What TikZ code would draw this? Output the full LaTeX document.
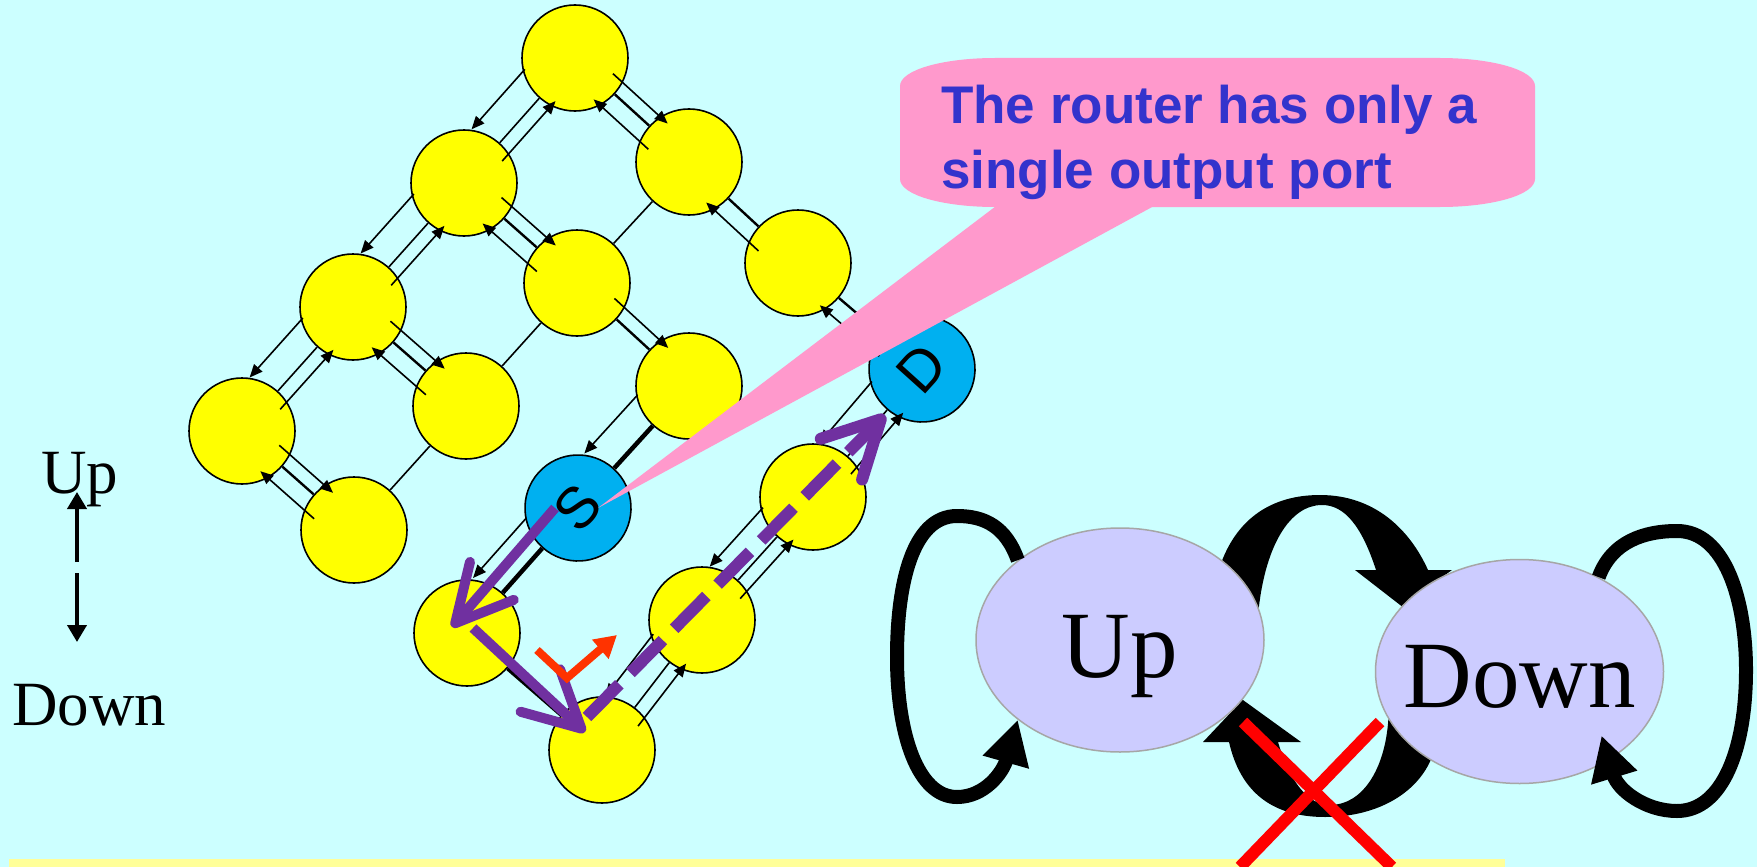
\documentclass[tikz,border=0pt]{standalone}
\usepackage{fontspec}
\setmainfont{Liberation Serif}
\newfontfamily\notefont{Liberation Sans}
\usetikzlibrary{arrows.meta, calc, shapes.geometric}
\pgfdeclarelayer{behind}
\pgfsetlayers{behind,main}

\definecolor{bgcyan}{RGB}{204,255,255}
\definecolor{routeryellow}{RGB}{255,255,0}
\definecolor{hubblue}{RGB}{0,176,240}
\definecolor{calloutpink}{RGB}{255,153,204}
\definecolor{noteblue}{RGB}{51,51,204}
\definecolor{routepurple}{RGB}{112,48,160}
\definecolor{turnred}{RGB}{255,51,0}
\definecolor{statefill}{RGB}{204,204,255}
\definecolor{stateedge}{RGB}{166,166,166}
\definecolor{stripyellow}{RGB}{255,255,153}

\begin{document}
\begin{tikzpicture}[x=1pt, y=-1pt]
  \tikzset{
    router/.style={
      circle,
      draw,
      line width=1.6pt,
      fill=routeryellow,
      minimum size=106pt,
      inner sep=0pt
    },
    hub/.style={
      router,
      fill=hubblue,
      font=\notefont\fontsize{58}{58}\selectfont,
      rotate=48
    },
    wire/.style={line width=1.6pt},
    trunk/.style={line width=2.4pt},
    spine/.style={line width=4.5pt},
    chan/.style={line width=1.6pt, -{Triangle[length=13pt, width=11pt]}},
    callout/.style={fill=calloutpink},
    notetext/.style={
      font=\notefont\bfseries\fontsize{53}{65}\selectfont,
      text=noteblue,
      inner sep=0pt,
      anchor=base west
    },
    route/.style={line width=10pt, draw=routepurple, -{Straight Barb[length=56pt, width=58pt, round]}},
    turn/.style={line width=8pt, draw=turnred, -{Triangle[length=22pt, width=24pt]}},
    dirlabel/.style={font=\fontsize{63}{63}\selectfont, inner sep=0pt, anchor=base west},
    dirarrow/.style={line width=4pt, -{Triangle[length=17pt, width=19pt]}},
    state/.style={
      ellipse,
      draw=stateedge,
      line width=1.5pt,
      fill=statefill,
      minimum width=288pt,
      minimum height=224pt,
      inner sep=0pt
    },
    statelabel/.style={font=\fontsize{95}{95}\selectfont, inner sep=0pt, anchor=base},
    selfloop/.style={line width=14pt, -{Triangle[length=44pt, width=45pt]}},
    band/.style={fill=black},
    cross/.style={line width=12pt, draw=red}
  }

  \useasboundingbox (0,0) rectangle (1757,867);
  \begin{pgfonlayer}{behind}
    \fill[bgcyan] (0,0) rectangle (1757,867);
  \end{pgfonlayer}

  % Draw the routers
  \node[router] (r1) at (575,58) {};
  \node[router] (r2) at (464,183) {};
  \node[router] (r3) at (689,162) {};
  \node[router] (r4) at (353,307) {};
  \node[router] (r5) at (577,283) {};
  \node[router] (r6) at (798,263) {};
  \node[router] (r7) at (242,431) {};
  \node[router] (r8) at (466,406) {};
  \node[router] (r9) at (689,386) {};
  \node[hub] (dst) at (922,369) {D};
  \node[router] (r10) at (354,530) {};
  \node[hub] (src) at (578,508) {S};
  \node[router] (r11) at (813,497) {};
  \node[router] (r12) at (467,633) {};
  \node[router] (r13) at (702,620) {};
  \node[router] (r14) at (602,750) {};

  % Links between neighbours
  \foreach \a/\b in {r1/r2, r2/r4, r4/r7, r3/r5, r5/r8, r8/r10, dst/r11, r11/r13, r13/r14}
    \draw[wire] (\a) -- (\b);
  \foreach \a/\b in {r1/r3, r3/r6, r6/dst, r2/r5, r5/r9, r4/r8, r7/r10}
    \draw[trunk] (\a) -- (\b);
  \foreach \a/\b in {r9/src, src/r12, r12/r14}
    \draw[spine] (\a) -- (\b);

  % Channels along the rows (kept left of their direction)
  \foreach \a/\b/\off in {r1/r3/14pt, r2/r5/14pt, r4/r8/14pt, r7/r10/14pt, r5/r9/14pt,
                          r3/r1/18pt, r5/r2/18pt, r8/r4/18pt, r10/r7/18pt, r6/r3/18pt, dst/r6/18pt}
    \draw[chan] ($(\a)!0.25!(\b)!\off!90:(\b)$) -- ($(\a)!0.73!(\b)!\off!90:(\b)$);
  % Channels along the columns (kept right of their direction)
  \foreach \a/\b/\off in {r1/r2/30pt, r2/r4/30pt, r4/r7/30pt, dst/r11/30pt, r11/r13/30pt,
                          r13/r14/30pt, r9/src/32pt, src/r12/32pt,
                          r2/r1/14pt, r4/r2/14pt, r7/r4/14pt, r11/dst/14pt, r13/r11/14pt, r14/r13/14pt}
    \draw[chan] ($(\a)!0.25!(\b)!\off!270:(\b)$) -- ($(\a)!0.73!(\b)!\off!270:(\b)$);

  % Speech bubble
  \fill[callout] (900,86) .. controls (900,70) and (943,58) .. (995,58) -- (1440,58)
    .. controls (1492,58) and (1535,70) .. (1535,86) -- (1535,179)
    .. controls (1535,195) and (1492,207) .. (1440,207) -- (995,207)
    .. controls (943,207) and (900,195) .. (900,179) -- cycle;
  \fill[callout] (1004,200) -- ($(src)+(20,0)$) -- (1165,200) -- cycle;
  \node[notetext] (note1) at (941,123) {The router has only a};
  \node[notetext] (note2) at (941,188) {single output port};

  % Route taken by the packet
  \coordinate (hop0) at ($(src)+(-23,0)$);
  \coordinate (hop1) at ($(r12)+(-15,-6)$);
  \coordinate (hop2) at ($(r12)+(6,-5)$);
  \coordinate (hop3) at ($(r14)+(-17,-18)$);
  \coordinate (hop4) at ($(r14)+(-15,-33)$);
  \coordinate (hop5) at ($(dst)+(-37,46)$);
  \draw[route] (hop0) -- (hop1);
  \draw[route] (hop2) -- (hop3);
  \draw[route, line width=12pt, dash pattern=on 46pt off 16pt] (hop4) -- (hop5);
  \draw[turn] ($(r14)+(-65,-100)$) -- ++(30,28) -- ++(50,-43);

  % Direction legend
  \node[dirlabel] (upLabel) at (41,493) {Up};
  \node[dirlabel] (downLabel) at (12,725) {Down};
  \coordinate (upFrom) at (77,562);
  \coordinate (upTo) at (77,492);
  \coordinate (downFrom) at (77,573);
  \coordinate (downTo) at (77,642);
  \draw[dirarrow] (upFrom) -- (upTo);
  \draw[dirarrow] (downFrom) -- (downTo);

  % Up/Down states
  \node[state] (up) at (1120,640) {};
  \node[state] (down) at (1519.5,671.5) {};
  \node[statelabel] (upText) at (1120,677) {Up};
  \node[statelabel] (downText) at (1520,707) {Down};

  \draw[selfloop] (up.142) .. controls (1006,527) and (985,516) .. (957,516)
    .. controls (912,516) and (897,585) .. (897,657)
    .. controls (897,735) and (918,797) .. (957,797)
    .. controls (985,797) and (1003,772) .. (up.218);
  \draw[selfloop] (down.50) .. controls (1612,541) and (1645,531) .. (1677,531)
    .. controls (1725,531) and (1746,600) .. (1746,670)
    .. controls (1746,750) and (1722,811) .. (1677,811)
    .. controls (1645,811) and (1618,790) .. ($(down)+(82,64)$);

  % Transitions between the states
  \begin{pgfonlayer}{behind}
    \fill[band] (up.38) .. controls (1238,520) and (1270,495) .. (1320,495)
      .. controls (1375,495) and (1410,530) .. (1428,570) -- (1452,570) -- (down.151)
      -- (1355,570) -- (1376,570) .. controls (1362,527) and (1345,505) .. (1322,505)
      .. controls (1290,505) and (1266,545) .. (up.13) -- cycle;
    \fill[band] (down.225) .. controls (1415,795) and (1375,817) .. (1325,817)
      .. controls (1270,817) and (1240,790) .. (1229,742) -- (1203,742) -- (up.334)
      -- (1301,742) -- (1278,742) .. controls (1290,782) and (1308,805) .. (1330,805)
      .. controls (1362,805) and (1385,770) .. (down.200) -- cycle;
  \end{pgfonlayer}

  \fill[stripyellow] (9,859) rectangle (1505,867);
  \draw[cross] (1243,722) -- (1392,867);
  \draw[cross] (1380,722) -- (1240,867);
\end{tikzpicture}
\end{document}
